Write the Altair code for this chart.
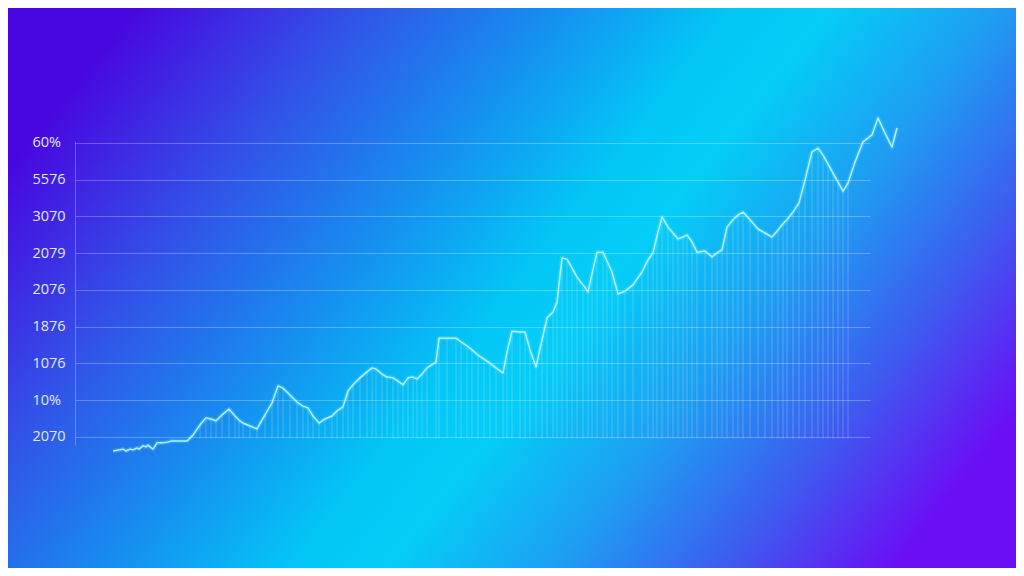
import altair as alt
import pandas as pd

# ---- data ----
t_vals = [7.6, 9.0, 9.6, 10.2, 11.0, 11.6, 12.4, 12.8, 13.6, 14.2, 14.6, 15.0, 15.6, 16.4, 17.4, 18.4,
          19.4, 20.4, 21.4, 22.4, 23.6, 25.0, 26.2, 27.2, 28.2, 29.4, 30.8, 32.0, 32.8, 33.6, 35.0,
          36.4, 38.0, 39.4, 40.6, 41.6, 43.0, 44.4, 45.6, 46.6, 47.6, 48.8, 50.0, 51.4, 52.4, 53.6,
          54.6, 55.6, 57.0, 58.4, 59.4, 60.2, 61.4, 62.4, 63.6, 64.6, 65.6, 66.6, 67.6, 68.4, 69.4,
          70.4, 72.2, 72.8, 74.4, 76.2, 77.2, 78.4, 79.4, 80.6, 81.8, 83.0, 84.2, 85.6, 86.4, 87.4,
          89.0, 90.0, 91.0, 92.2, 93.4, 94.4, 95.6, 96.4, 97.4, 98.4, 99.4, 100.4, 101.6, 102.6,
          103.4, 104.4, 105.6, 106.4, 107.4, 108.6, 110.0, 111.6, 113.4, 114.6, 115.6, 116.4, 117.4,
          118.6, 119.6, 120.6, 121.6, 122.4, 123.4, 124.4, 126.0, 127.4, 128.4, 129.4, 130.4, 131.6,
          132.6, 133.6, 135.0, 136.6, 138.0, 139.4, 140.6, 141.6, 142.4, 143.6, 144.8, 146.0, 147.4,
          148.6, 149.6, 150.6, 151.6, 152.6, 153.6, 154.6, 156.0, 157.6, 159.4, 160.6, 162.0, 163.4,
          164.4]
v_vals = [-3.8, -3.5, -3.3, -3.8, -3.3, -3.5, -3.0, -3.3, -2.4, -2.7, -2.2, -2.7, -3.3, -1.6, -1.6, -1.4,
          -1.1, -1.1, -1.1, -1.1, 0.5, 3.3, 5.2, 4.9, 4.4, 6.0, 7.6, 5.7, 4.6, 3.8, 3.0,
          2.2, 6.0, 9.3, 13.9, 13.3, 11.4, 9.5, 8.4, 7.9, 5.7, 3.8, 4.9, 5.7, 7.1, 8.2,
          12.5, 14.2, 16.1, 17.7, 18.8, 18.5, 17.1, 16.3, 16.1, 15.2, 14.2, 16.1, 16.3, 15.8, 17.1,
          18.8, 20.4, 26.9, 26.9, 26.9, 25.9, 24.8, 23.7, 22.3, 21.2, 20.1, 18.8, 17.4, 23.1, 28.8,
          28.6, 28.6, 23.7, 19.1, 26.4, 32.4, 34.0, 36.7, 48.7, 48.4, 46.0, 43.5, 41.4, 39.5,
          44.4, 50.3, 50.3, 47.9, 44.9, 38.9, 39.7, 41.4, 44.9, 48.2, 50.1, 54.7, 59.9,
          57.1, 55.5, 53.9, 54.4, 55.0, 53.1, 50.3, 50.6, 49.0, 50.1, 50.9, 57.1, 59.1,
          60.4, 61.2, 59.1, 56.6, 55.5, 54.4, 56.3, 58.0, 59.1, 61.2, 63.7, 69.9, 77.6,
          78.6, 76.7, 74.3, 71.8, 69.4, 66.9, 69.1, 74.8, 80.3, 82.2, 86.8, 82.7, 78.9,
          84.1]
tick_values = [0, 10, 20, 30, 40, 50, 60, 70, 80]
tick_labels = ["2070", "10%", "1076", "1876", "2076", "2079", "3070", "5576", "60%"]

df = pd.DataFrame({"t": t_vals, "v": v_vals})

W, H = 795, 304
PAD = {"left": 67, "top": 133, "right": 146, "bottom": 123}

label_expr = "[" + ",".join("'" + s + "'" for s in tick_labels) + "][round(datum.value / 10)]"

xs = alt.X("t:Q", scale=alt.Scale(domain=[0, 159], nice=False, zero=False), axis=None)
y_axis = alt.Axis(values=tick_values, labelExpr=label_expr, grid=True, gridColor="#ffffff",
                  gridOpacity=0.26, gridWidth=1, domain=True, domainColor="#ffffff",
                  domainOpacity=0.28, ticks=False, tickSize=0, labelAlign="left", labelPadding=43,
                  labelBaseline="middle", labelColor="#e2e9ff", labelFont="Open Sans",
                  labelFontSize=14.5, labelFontWeight=500, title=None, zindex=1)
ys = alt.Y("v:Q", scale=alt.Scale(domain=[-2.18, 80.54], nice=False, zero=False), axis=y_axis)

grad = alt.LinearGradient(
    gradient="linear",
    stops=[alt.GradientStop(color="#4806e0", offset=0.0),
           alt.GradientStop(color="#3350e8", offset=0.18),
           alt.GradientStop(color="#1592f0", offset=0.36),
           alt.GradientStop(color="#03c6f6", offset=0.5),
           alt.GradientStop(color="#04cdf7", offset=0.58),
           alt.GradientStop(color="#1e9ef2", offset=0.72),
           alt.GradientStop(color="#3d5cf0", offset=0.86),
           alt.GradientStop(color="#6a0ff5", offset=1.0)],
    x1=0, y1=0.28, x2=1, y2=0.72,
)

bg = alt.Chart(pd.DataFrame({"k": [0]})).mark_rect(fill=grad, strokeWidth=0).encode(
    x=alt.value(-PAD["left"]), x2=alt.value(W + PAD["right"]),
    y=alt.value(-PAD["top"]), y2=alt.value(H + PAD["bottom"]),
)

base = alt.Chart(df)

drops = base.transform_filter("datum.t >= 24 && datum.t <= 155.5").mark_rule(
    color="#ffffff", opacity=0.22, strokeWidth=1
).encode(x=xs, y=ys, y2=alt.datum(-0.5))

glow = base.mark_line(color="#8ff2ff", opacity=0.2, strokeWidth=4.5, strokeJoin="round").encode(
    x=xs, y=ys, order="t:Q")
line = base.mark_line(color="#aef3ff", strokeWidth=1.5, strokeJoin="round").encode(
    x=xs, y=ys, order="t:Q")

chart = alt.layer(bg, drops, glow, line).properties(
    width=W, height=H, padding=PAD, autosize=alt.AutoSizeParams(type="none"),
    background="#2a8ff0",
).configure_view(stroke=None)

chart.save("out.html", embed_options={"renderer": "svg", "actions": False})
